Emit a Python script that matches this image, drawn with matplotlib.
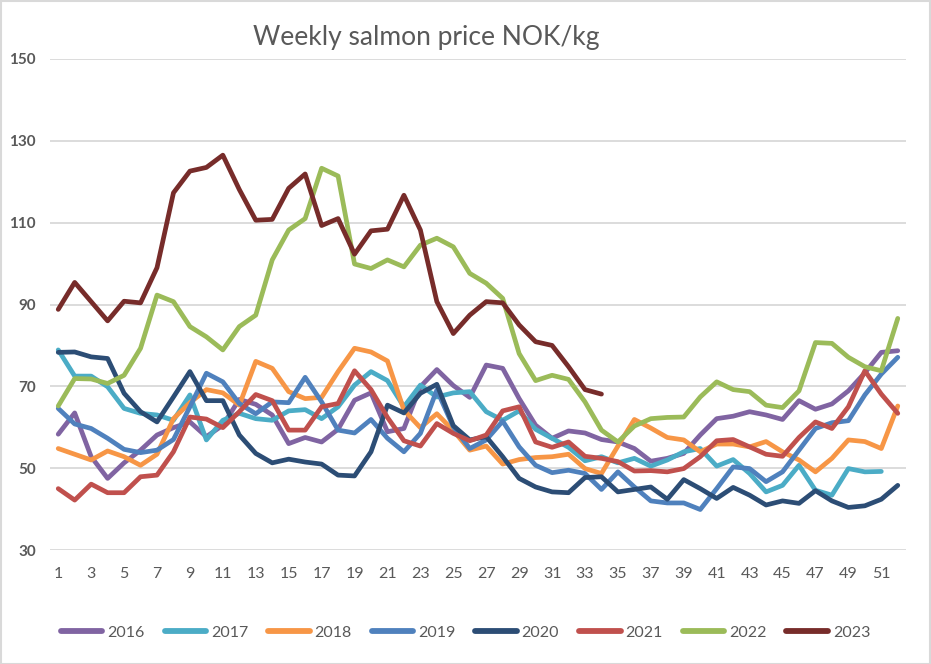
import numpy as np
import matplotlib
matplotlib.use("Agg")
import matplotlib.pyplot as plt
from matplotlib.patches import Rectangle

nan = np.nan

# Week numbers and tick labels
weeks = list(range(1, 53))
tick_weeks = list(range(1, 52, 2))
y_ticks = [30, 50, 70, 90, 110, 130, 150]

# Weekly salmon price NOK/kg
p2016 = [58.3, 63.5, 52.8, 47.5, 51.3, 54.4, 58.1, 59.9, 61.3, 57.7, 60.5, 66.8, 65.6,
         63.0, 56.0, 57.5, 56.4, 59.5, 66.6, 68.4, 58.9, 59.7, 69.9, 74.1, 70.2, 67.3,
         75.2, 74.4, 67.0, 60.5, 57.3, 59.1, 58.6, 57.0, 56.4, 54.8, 51.7, 52.4, 53.6,
         58.1, 62.1, 62.7, 63.8, 63.0, 61.9, 66.5, 64.4, 65.7, 68.9, 73.3, 78.3, 78.7]
p2017 = [78.9, 72.5, 72.5, 69.9, 64.6, 63.4, 63.0, 61.7, 67.9, 56.9, 61.7, 63.4, 62.1,
         61.7, 64.0, 64.3, 62.1, 65.0, 70.3, 73.6, 71.4, 65.0, 70.3, 67.4, 68.4, 68.7,
         63.8, 61.7, 64.0, 59.5, 57.3, 55.1, 51.8, 52.8, 51.3, 52.4, 50.5, 52.0, 54.0,
         54.8, 50.5, 52.1, 48.7, 44.2, 45.8, 50.7, 44.6, 43.4, 49.9, 49.1, 49.2, nan]
p2018 = [54.8, 53.4, 52.0, 54.2, 52.8, 50.7, 53.4, 62.1, 66.0, 69.2, 68.4, 65.4, 76.1,
         74.4, 68.7, 67.0, 67.3, 73.6, 79.3, 78.4, 76.2, 64.2, 59.9, 63.3, 59.2, 54.4,
         55.4, 51.0, 52.1, 52.6, 52.8, 53.4, 49.9, 48.7, 55.4, 61.9, 59.8, 57.5, 56.9,
         54.0, 55.9, 55.9, 55.2, 56.5, 54.0, 52.0, 49.1, 52.4, 56.9, 56.5, 54.8, 65.2]
p2019 = [64.6, 60.8, 59.7, 57.3, 54.6, 53.8, 54.4, 57.0, 65.0, 73.2, 71.1, 65.8, 63.3,
         66.2, 66.0, 72.2, 66.2, 59.3, 58.6, 61.9, 57.3, 54.0, 58.5, 69.1, 60.1, 54.8,
         56.9, 61.5, 55.2, 50.7, 48.9, 49.5, 48.7, 44.8, 49.1, 45.4, 42.0, 41.5, 41.5,
         39.9, 45.0, 50.3, 49.9, 46.7, 49.1, 54.4, 59.7, 61.1, 61.6, 67.9, 73.0, 77.1]
p2020 = [78.3, 78.4, 77.2, 76.8, 68.3, 63.8, 61.3, 67.4, 73.6, 66.5, 66.5, 58.1, 53.6,
         51.3, 52.2, 51.5, 51.0, 48.3, 48.1, 54.0, 65.4, 63.5, 68.3, 70.5, 60.4, 56.9,
         57.7, 52.8, 47.5, 45.4, 44.2, 44.0, 47.7, 47.9, 44.2, 44.8, 45.4, 42.4, 47.2,
         45.0, 42.6, 45.3, 43.4, 41.0, 42.0, 41.4, 44.5, 42.0, 40.4, 40.8, 42.4, 45.8]
p2021 = [45.0, 42.2, 46.1, 44.0, 44.0, 47.9, 48.3, 54.0, 62.5, 62.0, 59.9, 63.8, 68.0,
         66.5, 59.3, 59.3, 65.0, 65.8, 73.8, 69.2, 62.4, 56.7, 55.4, 60.9, 58.5, 56.7,
         58.1, 64.0, 65.0, 56.4, 55.1, 56.4, 52.9, 52.4, 51.6, 49.3, 49.4, 49.1, 49.9,
         52.8, 56.7, 57.0, 55.2, 53.4, 52.9, 57.5, 61.3, 59.7, 65.0, 73.8, 68.1, 63.4]
p2022 = [65.2, 71.9, 71.8, 70.7, 72.7, 79.3, 92.3, 90.7, 84.6, 82.1, 78.9, 84.6, 87.4,
         100.9, 108.2, 111.0, 123.3, 121.4, 99.9, 98.8, 100.9, 99.2, 104.5, 106.2, 104.1,
         97.6, 95.2, 91.5, 78.0, 71.4, 72.7, 71.7, 66.2, 59.3, 56.4, 60.3, 62.1, 62.4,
         62.5, 67.4, 71.1, 69.2, 68.7, 65.4, 64.8, 68.9, 80.7, 80.5, 77.1, 74.8, 73.8, 86.6]
p2023 = [88.8, 95.4, 90.7, 86.0, 90.8, 90.4, 99.0, 117.3, 122.6, 123.5, 126.5, 118.1,
         110.6, 110.8, 118.4, 121.9, 109.3, 111.0, 102.3, 108.0, 108.4, 116.7, 108.2,
         90.7, 82.9, 87.4, 90.7, 90.4, 85.0, 80.9, 80.0, 74.8, 69.2, 68.1]
p2023 = p2023 + [nan] * (52 - len(p2023))

years = ["2016", "2017", "2018", "2019", "2020", "2021", "2022", "2023"]
series = [p2016, p2017, p2018, p2019, p2020, p2021, p2022, p2023]
colors = ["#8064A2", "#4BACC6", "#F79646", "#4F81BD", "#2C4D75", "#C0504D", "#9BBB59", "#772C2A"]

text_col = "#595959"
grid_col = "#D9D9D9"

fig = plt.figure(figsize=(9.31, 6.64), dpi=100)
ax = fig.add_axes([50 / 931, 1 - 550 / 664, 856 / 931, 491 / 664])

for year, vals, col in zip(years, series, colors):
    ax.plot(weeks, vals, color=col, lw=3.4, label=year,
            solid_joinstyle="round", solid_capstyle="round")

ax.set_xlim(0.5, 52.5)
ax.set_ylim(30, 150)
ax.set_yticks(y_ticks)
ax.set_xticks(tick_weeks)
ax.set_xticklabels([str(w) for w in tick_weeks])
ax.yaxis.grid(True, color=grid_col, lw=1.3)
ax.set_axisbelow(True)
for s in ax.spines.values():
    s.set_visible(False)
ax.tick_params(axis="both", length=0, labelcolor=text_col)
ax.tick_params(axis="x", pad=12, labelsize=11.5)
ax.tick_params(axis="y", pad=10, labelsize=11)
for lab in ax.get_yticklabels():
    lab.set_fontweight("bold")
for lab in ax.get_xticklabels() + ax.get_yticklabels():
    lab.set_family("Lato")

fig.text(426 / 931, 1 - 37 / 664, "Weekly salmon price NOK/kg", ha="center", va="center",
         fontsize=19, color=text_col, family="Lato")

leg = fig.legend(loc="center", bbox_to_anchor=(0.5, 1 - 633 / 664), ncol=8, frameon=False,
                 handlelength=2.6, handletextpad=0.3, columnspacing=1.25,
                 prop={"family": "Lato", "size": 11.5})
for t in leg.get_texts():
    t.set_color(text_col)
for h in leg.get_lines():
    h.set_linewidth(4.2)
    h.set_solid_capstyle("round")

# light chart border like the spreadsheet export
fig.patches.append(Rectangle((0.5 / 931, 0.5 / 664), 1 - 1.5 / 931, 1 - 1.5 / 664,
                             transform=fig.transFigure, fill=False, edgecolor=grid_col, lw=1.5))

fig.savefig("out.png", dpi=100)
